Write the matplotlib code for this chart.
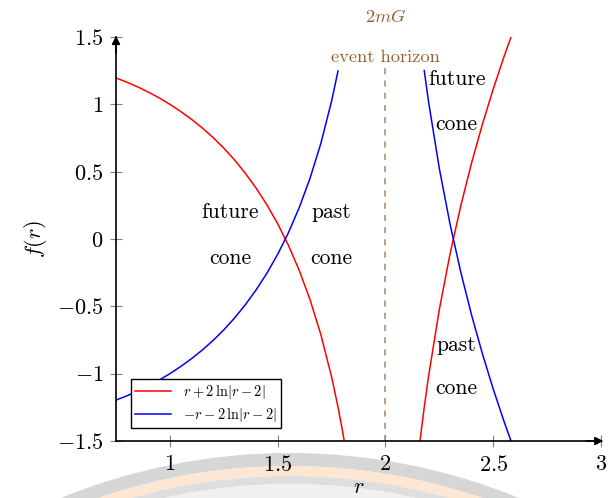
import matplotlib
matplotlib.use("Agg")
import matplotlib.pyplot as plt
from matplotlib.patches import Wedge

plt.rcParams["mathtext.fontset"] = "cm"
plt.rcParams["font.family"] = "serif"
plt.rcParams["font.serif"] = ["cmr10", "DejaVu Serif"]
plt.rcParams["axes.formatter.use_mathtext"] = True

# sampled values of the two curves, r < 2 branch and r > 2 branch
r_left = [0.75, 0.80, 0.85, 0.90, 0.95, 1.00, 1.05, 1.10, 1.15, 1.20, 1.25,
          1.30, 1.35, 1.40, 1.45, 1.50, 1.55, 1.60, 1.65, 1.70, 1.75, 1.78,
          1.80, 1.81]
red_left = [1.196, 1.165, 1.130, 1.091, 1.048, 1.000, 0.947, 0.889, 0.825,
            0.754, 0.675, 0.587, 0.488, 0.378, 0.254, 0.114, -0.047, -0.233,
            -0.450, -0.708, -1.023, -1.248, -1.419, -1.511]
blue_left_r = r_left[:22]
blue_left = [-1.196, -1.165, -1.130, -1.091, -1.048, -1.000, -0.947, -0.889,
             -0.825, -0.754, -0.675, -0.587, -0.488, -0.378, -0.254, -0.114,
             0.047, 0.233, 0.450, 0.708, 1.023, 1.248]

r_right = [2.16, 2.17, 2.18, 2.20, 2.25, 2.30, 2.35, 2.40, 2.45, 2.50, 2.55, 2.60]
red_right = [-1.505, -1.374, -1.250, -1.019, -0.523, -0.108, 0.250, 0.567,
             0.853, 1.114, 1.354, 1.578]
blue_right_r = r_right[2:]
blue_right = [1.250, 1.019, 0.523, 0.108, -0.250, -0.567, -0.853, -1.114,
              -1.354, -1.578]

x_ticks = [1, 1.5, 2, 2.5, 3]
x_labels = ["$1$", "$1.5$", "$2$", "$2.5$", "$3$"]
y_ticks = [-1.5, -1, -0.5, 0, 0.5, 1, 1.5]
y_labels = ["$-1.5$", "$-1$", "$-0.5$", "$0$", "$0.5$", "$1$", "$1.5$"]

# region labels: (text, r, f)
cone_labels = [("future", 1.28, 0.20), ("cone", 1.28, -0.14),
               ("past", 1.75, 0.20), ("cone", 1.75, -0.14),
               ("future", 2.33, 1.19), ("cone", 2.33, 0.85),
               ("past", 2.33, -0.79), ("cone", 2.33, -1.11)]

BROWN = "#93602e"

fig = plt.figure(figsize=(6.08, 4.98), dpi=100)

# faded logo watermark at the bottom of the page
bg = fig.add_axes([0, 0, 1, 1], zorder=-5)
bg.set_xlim(0, 608)
bg.set_ylim(498, 0)
bg.axis("off")
cx, cy = 290, 1060
for r_out, w, col in [(607, 13, "#d6d6d6"), (594, 10, "#fde6d2"),
                      (584, 8, "#dedede"), (576, 80, "#f0f0f0")]:
    bg.add_patch(Wedge((cx, cy), r_out, 180, 360, width=w, color=col, lw=0))

ax = fig.add_axes([116 / 608, 57 / 498, 485 / 608, 404 / 498])
ax.patch.set_alpha(0)

ax.plot(r_left, red_left, color="red", lw=1.1, label=r"$r+2\,\ln|r-2|$")
ax.plot(blue_left_r, blue_left, color="blue", lw=1.1, label=r"$-r-2\,\ln|r-2|$")
ax.plot(r_right, red_right, color="red", lw=1.1)
ax.plot(blue_right_r, blue_right, color="blue", lw=1.1)

ax.plot([2, 2], [-1.5, 1.28], color="#a88463", lw=1.1, ls=(0, (4, 4)))
ax.text(2, 1.35, "event horizon", color=BROWN, fontsize=13.3,
        ha="center", va="center")
ax.text(2, 1.65, "$2mG$", color=BROWN, fontsize=13.3, ha="center",
        va="center", clip_on=False)

for txt, rx, fy in cone_labels:
    ax.text(rx, fy, txt, fontsize=15.5, ha="center", va="center")

ax.set_xlim(0.75, 3)
ax.set_ylim(-1.5, 1.5)
ax.set_xticks(x_ticks)
ax.set_xticklabels(x_labels)
ax.set_yticks(y_ticks)
ax.set_yticklabels(y_labels)
ax.tick_params(direction="inout", length=8, width=0.8, color="#808080",
               labelsize=16)
ax.tick_params(axis="x", pad=6)
ax.tick_params(axis="y", pad=5)
for s in ["top", "right"]:
    ax.spines[s].set_visible(False)
for s in ["left", "bottom"]:
    ax.spines[s].set_linewidth(1.2)

arrow = dict(arrowstyle="-|>", color="black", lw=1.2, mutation_scale=12,
             shrinkA=0, shrinkB=0)
ax.annotate("", xy=(1.005, 0), xytext=(0.97, 0), xycoords="axes fraction",
            arrowprops=arrow)
ax.annotate("", xy=(0, 1.003), xytext=(0, 0.96), xycoords="axes fraction",
            arrowprops=arrow)

ax.set_xlabel("$r$", fontsize=16, labelpad=2)
ax.set_ylabel("$f(r)$", fontsize=16, labelpad=6)

ax.legend(loc="lower left", bbox_to_anchor=(0.031, 0.032), borderaxespad=0,
          fancybox=False, edgecolor="black", framealpha=1, fontsize=10.4,
          handlelength=2.5, borderpad=0.3, labelspacing=0.3)

fig.savefig("out.png", dpi=100)
